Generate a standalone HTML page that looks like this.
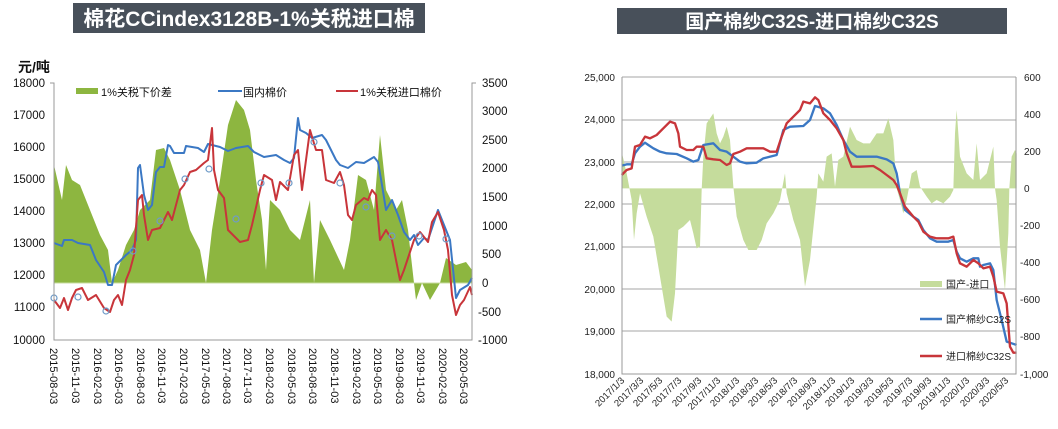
<!DOCTYPE html>
<html><head><meta charset="utf-8"><style>
body{margin:0;background:#fff;width:1058px;height:429px;overflow:hidden}
svg{display:block;font-family:"Liberation Sans","Noto Sans CJK SC",sans-serif}
</style></head><body>
<svg width="1058" height="429" viewBox="0 0 1058 429" xmlns="http://www.w3.org/2000/svg">
<!-- LEFT CHART -->
<rect x="73" y="3" width="352" height="30" fill="#48505a"/>
<text x="249" y="26" fill="#fff" font-size="21" font-weight="bold" text-anchor="middle">棉花CCindex3128B-1%关税进口棉</text>
<text x="18" y="72" font-size="14" font-weight="bold" fill="#111">元/吨</text>
<polygon fill="#8db640" points="54,283 54,165 62,200 66,165 72,180 80,185 90,210 100,235 108,250 112,283 118,270 126,245 134,230 140,210 150,200 156,150 164,148 170,160 180,190 190,230 200,250 206,283 212,230 220,180 228,125 236,100 244,110 250,130 256,180 262,220 266,270 270,200 280,210 290,230 300,240 310,200 314,283 320,220 330,240 344,270 350,240 358,175 366,180 374,210 380,135 386,190 396,210 402,200 408,230 414,283 416,300 422,283 430,300 440,283 446,258 456,265 466,262 472,270 472,283"/>
<line x1="54" y1="283" x2="472" y2="283" stroke="#c8dca0" stroke-width="1"/>
<g fill="none" stroke-width="2" stroke-linejoin="round">
<polyline stroke="#3b78c4" points="54,243 62,246 64,240 72,240 78,243 90,245 96,260 104,272 108,285 112,285 116,265 126,255 132,250 136,240 138,168 140,165 144,195 148,210 152,205 156,172 160,167 164,167 168,145 170,146 174,153 184,153 186,146 198,148 204,152 208,144 212,145 220,147 228,151 236,148 248,146 254,152 264,157 276,155 284,160 290,163 294,158 298,118 300,130 306,133 312,138 322,135 326,140 336,160 340,165 348,168 356,162 364,163 374,157 378,162 382,185 386,210 392,200 398,215 404,232 410,240 414,235 418,245 424,238 428,240 438,210 444,225 450,240 456,298 460,290 468,285 472,278"/>
<polyline stroke="#c8353a" points="54,300 60,308 64,298 68,310 72,298 76,290 82,288 88,300 96,295 104,308 110,312 114,300 118,295 122,305 126,280 130,270 134,255 138,200 142,195 144,215 148,240 152,230 160,228 168,212 172,220 176,205 180,190 184,185 190,172 196,170 204,163 208,160 212,128 214,170 218,190 224,198 228,230 232,234 240,242 248,240 252,225 260,190 264,175 272,180 276,200 280,182 288,190 294,155 298,150 302,190 310,130 316,150 322,150 326,180 334,183 340,172 344,185 348,215 352,220 356,205 364,198 368,200 372,190 376,195 380,240 386,230 392,240 396,260 400,280 404,270 408,258 414,240 420,232 428,242 432,222 438,212 444,230 448,250 452,295 456,315 460,305 464,300 470,287 472,295"/>
</g>
<g fill="none" stroke="#6f9bc8" stroke-width="1.2">
<circle cx="54" cy="298" r="3"/><circle cx="78" cy="297" r="3"/><circle cx="106" cy="311" r="3"/><circle cx="133" cy="251" r="3"/><circle cx="160" cy="221" r="3"/><circle cx="185" cy="179" r="3"/><circle cx="209" cy="169" r="3"/><circle cx="236" cy="219" r="3"/><circle cx="261" cy="183" r="3"/><circle cx="289" cy="183" r="3"/><circle cx="314" cy="142" r="3"/><circle cx="340" cy="183" r="3"/><circle cx="366" cy="207" r="3"/><circle cx="392" cy="236" r="3"/><circle cx="419" cy="236" r="3"/><circle cx="446" cy="239" r="3"/>
</g>
<g stroke="#999" stroke-width="1" fill="none">
<polyline points="50,83 54,83 54,340 472,340 472,83 476,83"/>
</g>
<g font-size="11.5" fill="#111" text-anchor="end">
<text x="45" y="87">18000</text><text x="45" y="119">17000</text><text x="45" y="151">16000</text><text x="45" y="183">15000</text><text x="45" y="215">14000</text><text x="45" y="247">13000</text><text x="45" y="279">12000</text><text x="45" y="311">11000</text><text x="45" y="344">10000</text>
</g>
<g font-size="11.5" fill="#111">
<text x="482" y="87">3500</text><text x="482" y="115">3000</text><text x="482" y="144">2500</text><text x="482" y="172">2000</text><text x="482" y="201">1500</text><text x="482" y="230">1000</text><text x="482" y="258">500</text><text x="482" y="287">0</text><text x="478" y="316">-500</text><text x="478" y="344">-1000</text>
</g>
<g font-size="11" fill="#111">
<text transform="translate(50,348) rotate(90)">2015-08-03</text>
<text transform="translate(72,348) rotate(90)">2015-11-03</text>
<text transform="translate(94,348) rotate(90)">2016-02-03</text>
<text transform="translate(115,348) rotate(90)">2016-05-03</text>
<text transform="translate(137,348) rotate(90)">2016-08-03</text>
<text transform="translate(158,348) rotate(90)">2016-11-03</text>
<text transform="translate(180,348) rotate(90)">2017-02-03</text>
<text transform="translate(202,348) rotate(90)">2017-05-03</text>
<text transform="translate(223,348) rotate(90)">2017-08-03</text>
<text transform="translate(244,348) rotate(90)">2017-11-03</text>
<text transform="translate(266,348) rotate(90)">2018-02-03</text>
<text transform="translate(288,348) rotate(90)">2018-05-03</text>
<text transform="translate(309,348) rotate(90)">2018-08-03</text>
<text transform="translate(331,348) rotate(90)">2018-11-03</text>
<text transform="translate(353,348) rotate(90)">2019-02-03</text>
<text transform="translate(374,348) rotate(90)">2019-05-03</text>
<text transform="translate(396,348) rotate(90)">2019-08-03</text>
<text transform="translate(417,348) rotate(90)">2019-11-03</text>
<text transform="translate(439,348) rotate(90)">2020-02-03</text>
<text transform="translate(460,348) rotate(90)">2020-05-03</text>
</g>
<rect x="76" y="88" width="22" height="6" fill="#8db640"/>
<text x="101" y="96" font-size="11" fill="#111">1%关税下价差</text>
<line x1="218" y1="91" x2="242" y2="91" stroke="#3b78c4" stroke-width="2"/>
<text x="243" y="96" font-size="11" fill="#111">国内棉价</text>
<line x1="336" y1="91" x2="358" y2="91" stroke="#c8353a" stroke-width="2"/>
<text x="360" y="96" font-size="11" fill="#111">1%关税进口棉价</text>

<!-- RIGHT CHART -->
<rect x="617" y="8" width="390" height="26" fill="#48505a"/>
<text x="812" y="28" fill="#fff" font-size="19" font-weight="bold" text-anchor="middle">国产棉纱C32S-进口棉纱C32S</text>
<g stroke="#a6a6a6" stroke-width="1">
<line x1="622" y1="77" x2="1016" y2="77"/><line x1="622" y1="120" x2="1016" y2="120"/><line x1="622" y1="162" x2="1016" y2="162"/><line x1="622" y1="204" x2="1016" y2="204"/><line x1="622" y1="247" x2="1016" y2="247"/><line x1="622" y1="289" x2="1016" y2="289"/><line x1="622" y1="331" x2="1016" y2="331"/>
</g>
<g transform="translate(560,0) scale(0.33333)">
<polygon fill="#c5dc9c" points="185,565 185,455 200,520 215,600 222,720 230,640 240,580 260,650 280,710 300,830 320,950 335,965 345,880 355,690 370,680 390,660 400,700 410,745 420,740 425,570 430,470 440,370 460,340 470,400 480,430 490,410 500,380 510,420 520,560 530,650 550,720 565,750 590,750 605,720 620,670 640,640 660,600 675,520 680,580 700,660 720,720 735,860 750,780 770,590 775,520 790,545 800,470 815,460 825,560 835,480 850,470 870,380 890,420 910,430 930,430 950,400 970,400 985,355 1000,420 1010,565 1020,600 1030,640 1040,600 1055,520 1070,510 1080,560 1100,590 1115,610 1130,600 1150,610 1170,590 1180,570 1185,400 1190,330 1200,470 1220,520 1240,540 1250,430 1260,540 1280,520 1300,440 1305,565 1310,600 1320,740 1335,870 1345,700 1348,565 1355,470 1365,450 1370,460 1370,565"/>
<g fill="none" stroke-width="7" stroke-linejoin="round">
<polyline stroke="#3b78c4" points="185,497 200,493 215,493 225,460 240,440 255,428 265,435 280,445 300,455 320,460 350,462 380,475 400,485 415,480 430,435 460,430 480,450 500,455 520,470 540,485 560,490 590,488 610,475 650,465 670,390 690,380 730,378 750,360 765,318 790,325 810,340 830,375 850,420 870,455 890,470 920,470 950,470 980,478 1000,490 1010,520 1020,580 1035,630 1060,650 1075,660 1090,690 1110,715 1130,725 1165,725 1180,720 1190,755 1200,775 1220,785 1240,775 1255,775 1260,800 1270,795 1290,790 1300,810 1310,900 1325,960 1340,1025 1355,1030 1370,1035"/>
<polyline stroke="#c8353a" points="185,525 200,510 215,505 225,440 240,435 255,410 270,415 290,405 310,385 330,365 345,370 355,400 360,440 380,450 400,450 410,440 430,440 440,475 460,478 480,480 500,495 510,490 520,462 540,455 560,445 590,445 610,445 630,455 650,455 665,410 680,370 700,350 720,330 730,305 750,310 765,292 775,300 790,340 810,360 830,385 850,420 860,460 875,500 900,500 940,498 960,510 980,525 1000,540 1010,555 1020,580 1035,620 1060,650 1075,665 1090,695 1110,710 1130,715 1165,715 1180,710 1190,760 1200,790 1220,800 1240,780 1255,790 1270,805 1290,800 1300,830 1310,875 1330,880 1340,910 1350,1040 1360,1058 1370,1058"/>
</g>
</g>
<g stroke="#999" stroke-width="1" fill="none">
<polyline points="622,77 622,374 1016,374 1016,77"/>
</g>
<g font-size="10" fill="#222" text-anchor="end">
<text x="615" y="81">25,000</text><text x="615" y="123">24,000</text><text x="615" y="166">23,000</text><text x="615" y="208">22,000</text><text x="615" y="250">21,000</text><text x="615" y="293">20,000</text><text x="615" y="335">19,000</text><text x="615" y="378">18,000</text>
</g>
<g font-size="10" fill="#222">
<text x="1024" y="81">600</text><text x="1024" y="118">400</text><text x="1024" y="155">200</text><text x="1024" y="192">0</text><text x="1020" y="229">-200</text><text x="1020" y="266">-400</text><text x="1020" y="303">-600</text><text x="1020" y="340">-800</text><text x="1020" y="378">-1,000</text>
</g>
<g font-size="9.5" fill="#222" text-anchor="end">
<text transform="translate(625,381) rotate(-45)">2017/1/3</text>
<text transform="translate(644,381) rotate(-45)">2017/3/3</text>
<text transform="translate(663,381) rotate(-45)">2017/5/3</text>
<text transform="translate(682,381) rotate(-45)">2017/7/3</text>
<text transform="translate(702,381) rotate(-45)">2017/9/3</text>
<text transform="translate(721,381) rotate(-45)">2017/11/3</text>
<text transform="translate(740,381) rotate(-45)">2018/1/3</text>
<text transform="translate(759,381) rotate(-45)">2018/3/3</text>
<text transform="translate(778,381) rotate(-45)">2018/5/3</text>
<text transform="translate(798,381) rotate(-45)">2018/7/3</text>
<text transform="translate(817,381) rotate(-45)">2018/9/3</text>
<text transform="translate(836,381) rotate(-45)">2018/11/3</text>
<text transform="translate(855,381) rotate(-45)">2019/1/3</text>
<text transform="translate(874,381) rotate(-45)">2019/3/3</text>
<text transform="translate(894,381) rotate(-45)">2019/5/3</text>
<text transform="translate(913,381) rotate(-45)">2019/7/3</text>
<text transform="translate(932,381) rotate(-45)">2019/9/3</text>
<text transform="translate(951,381) rotate(-45)">2019/11/3</text>
<text transform="translate(970,381) rotate(-45)">2020/1/3</text>
<text transform="translate(990,381) rotate(-45)">2020/3/3</text>
<text transform="translate(1009,381) rotate(-45)">2020/5/3</text>
</g>
<rect x="920" y="281" width="22" height="6" fill="#c5dc9c"/>
<text x="946" y="288" font-size="10" fill="#222">国产-进口</text>
<line x1="920" y1="319" x2="942" y2="319" stroke="#3b78c4" stroke-width="2.5"/>
<text x="946" y="323" font-size="10" fill="#222">国产棉纱C32S</text>
<line x1="920" y1="356" x2="942" y2="356" stroke="#c8353a" stroke-width="2.5"/>
<text x="946" y="360" font-size="10" fill="#222">进口棉纱C32S</text>
</svg>
</body></html>
